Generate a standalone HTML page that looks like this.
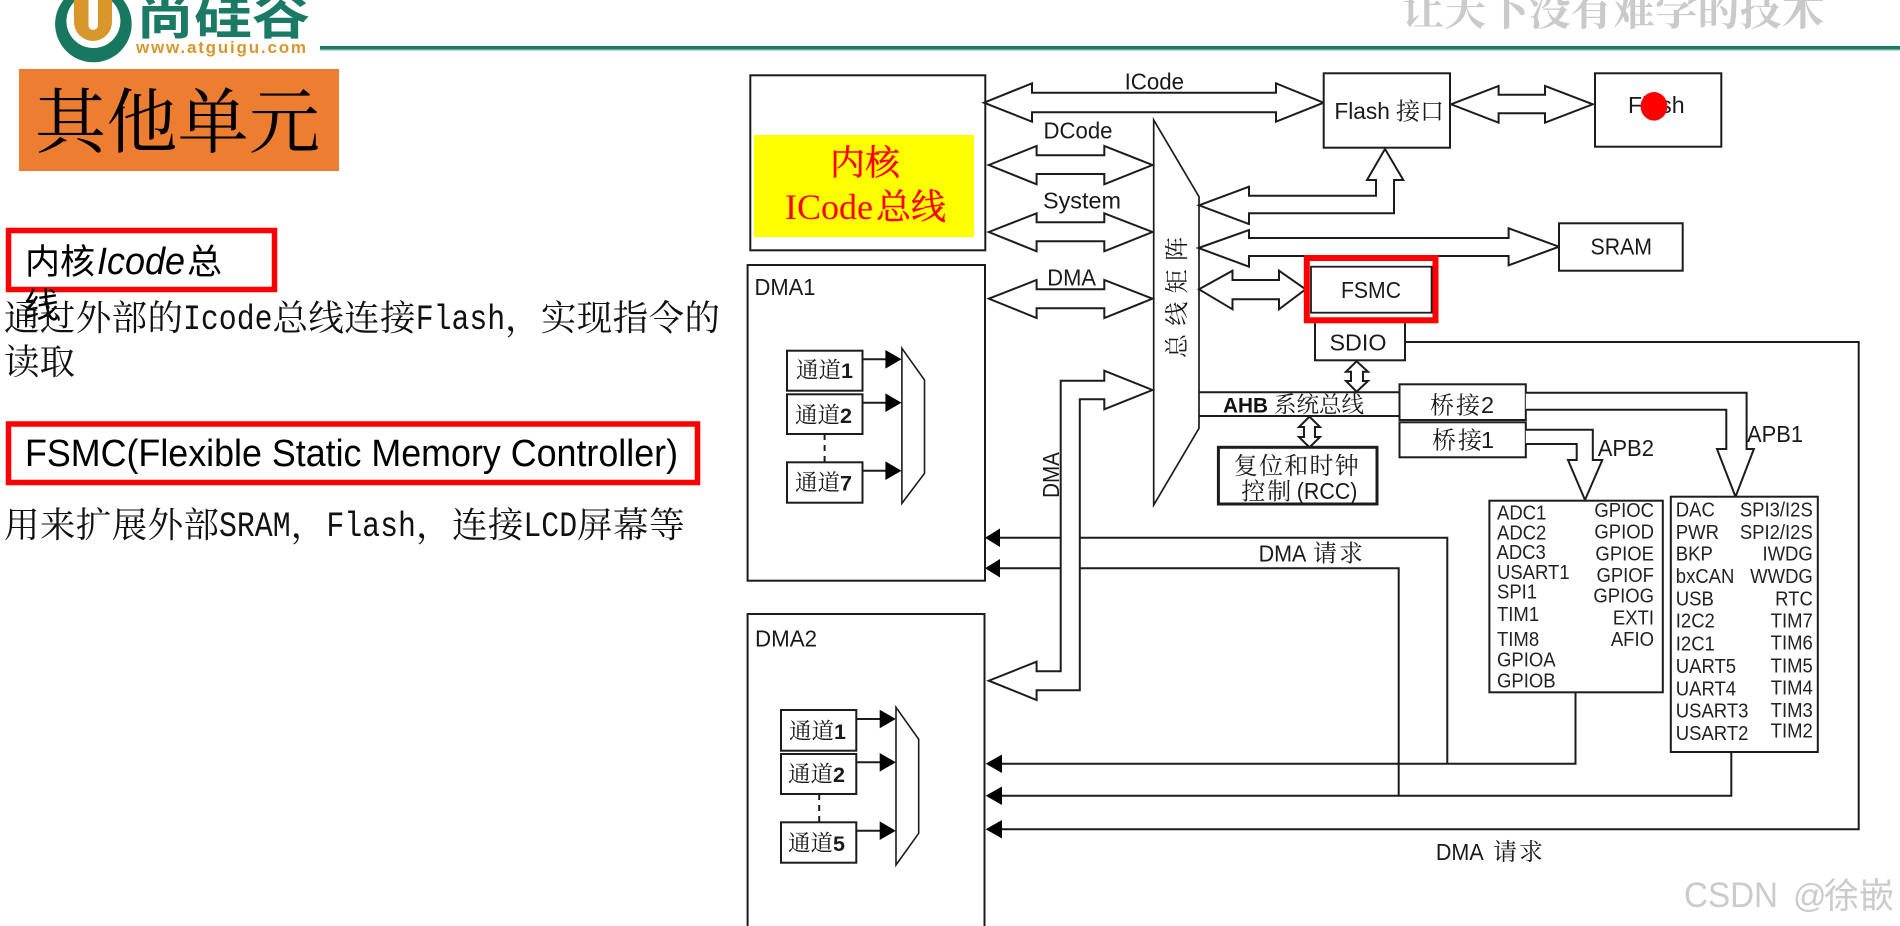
<!DOCTYPE html>
<html><head><meta charset="utf-8"><style>
html,body{margin:0;padding:0;background:#fff;width:1900px;height:926px;overflow:hidden}
svg{display:block;filter:blur(.35px)}
.p text{font-family:"Liberation Sans",sans-serif;font-size:20px;fill:#222;transform-box:fill-box;transform-origin:0 100%;transform:scaleX(.925)}
.p .e text{transform-origin:100% 100%}
.b{font-family:"Noto Serif CJK SC",serif;font-size:35.5px;fill:#111}
.m{font-family:"Liberation Mono",monospace;font-size:35px;fill:#111}
.ln{fill:none;stroke:#1c1c1c;stroke-width:2}
.ar{fill:#fff;stroke:#1c1c1c;stroke-width:2;stroke-linejoin:miter}
.bx{fill:#fff;stroke:#1c1c1c;stroke-width:2}
.t{font-family:"Liberation Sans",sans-serif;font-size:23.5px;fill:#1a1a1a}
.h{font-family:"Noto Serif CJK SC",serif;font-size:24px;fill:#1a1a1a}
.ch{font-family:"Noto Serif CJK SC",serif;font-size:22.5px;fill:#1a1a1a}
.ch tspan{font-family:"Liberation Sans",sans-serif;font-weight:bold;font-size:21.5px}
</style></head><body>
<svg width="1900" height="926" viewBox="0 0 1900 926" xmlns="http://www.w3.org/2000/svg">
<!-- header -->
<circle cx="93.4" cy="24" r="38.3" fill="#17785f"/>
<circle cx="93.4" cy="21" r="27" fill="#fff"/>
<rect x="74" y="-30" width="38" height="71" rx="19" fill="#d9962b"/>
<rect x="88.5" y="-10" width="9.5" height="40" rx="4.7" fill="#fff"/>
<text x="136" y="34" font-family="Noto Sans CJK SC,sans-serif" font-weight="bold" font-size="50" fill="#1a7a66" textLength="174" lengthAdjust="spacingAndGlyphs">尚硅谷</text>
<text x="136" y="53" font-family="Liberation Sans,sans-serif" font-weight="bold" font-size="17" fill="#d9962b" textLength="170">www.atguigu.com</text>
<rect x="320" y="46" width="1580" height="3.5" fill="#1a7a63"/>
<rect x="320" y="49.5" width="1580" height="1.5" fill="#bcd8d0"/>
<text x="1402" y="25" font-family="Noto Serif CJK SC,serif" font-weight="bold" font-size="42" fill="#cacaca" textLength="422">让天下没有难学的技术</text>
<!-- left pane -->
<rect x="19" y="69" width="320" height="102" fill="#ed7d31"/>
<text x="35" y="147" font-family="Noto Serif CJK SC,serif" font-size="71" fill="#000" textLength="285">其他单元</text>
<rect x="8.5" y="230.5" width="266" height="59" fill="#fff" stroke="#f00" stroke-width="5.5"/>
<text x="25" y="274" font-family="Noto Sans CJK SC,sans-serif" font-size="35" fill="#000">内核</text>
<text x="97" y="274" font-family="Liberation Sans,sans-serif" font-style="italic" font-size="38" fill="#000" textLength="88" lengthAdjust="spacingAndGlyphs">Icode</text>
<text x="187" y="274" font-family="Noto Sans CJK SC,sans-serif" font-size="35" fill="#000">总</text>
<text x="24" y="318" font-family="Noto Sans CJK SC,sans-serif" font-size="35" fill="#000">线</text>
<text class="b" x="4" y="330" textLength="179">通过外部的</text>
<text class="m" x="183" y="329" textLength="89.5" lengthAdjust="spacingAndGlyphs">Icode</text>
<text class="b" x="272.5" y="330" textLength="143">总线连接</text>
<text class="m" x="415.7" y="329" textLength="89.5" lengthAdjust="spacingAndGlyphs">Flash</text>
<text class="b" x="505" y="330" textLength="215">，实现指令的</text>
<text class="b" x="4" y="374" textLength="71">读取</text>
<rect x="8.5" y="424" width="689" height="58.5" fill="#fff" stroke="#f00" stroke-width="5.5"/>
<text x="25" y="466" font-family="Liberation Sans,sans-serif" font-size="38" fill="#000" textLength="653" lengthAdjust="spacingAndGlyphs">FSMC(Flexible Static Memory Controller)</text>
<text class="b" x="4" y="537" textLength="215">用来扩展外部</text>
<text class="m" x="219" y="536" textLength="71.6" lengthAdjust="spacingAndGlyphs">SRAM</text>
<text class="b" x="290.6" y="537">，</text>
<text class="m" x="326.4" y="536" textLength="89.5" lengthAdjust="spacingAndGlyphs">Flash</text>
<text class="b" x="416" y="537" textLength="107.4">，连接</text>
<text class="m" x="523.4" y="536" textLength="53.7" lengthAdjust="spacingAndGlyphs">LCD</text>
<text class="b" x="577" y="537" textLength="107.6">屏幕等</text>

<!-- request lines (under big arrow) -->
<path class="ln" d="M1000,537.7 H1447.3 V763.7"/>
<path class="ln" d="M1000,568.3 H1398.7 V796"/>
<path class="ln" d="M1002,763.7 H1575.5 V692.7"/>
<path class="ln" d="M1002,795.7 H1731.3 V752"/>
<path class="ln" d="M1002,829.3 H1858.7 V342 H1405"/>
<g fill="#000">
<path d="M985,537.7 L1000,528.5 V547Z"/>
<path d="M985,568.3 L1000,559 V577.5Z"/>
<path d="M985.7,763.7 L1002,754.5 V773Z"/>
<path d="M985.7,795.7 L1002,786.5 V805Z"/>
<path d="M985.7,829.3 L1002,820 V838.5Z"/>
</g>

<!-- core -->
<rect class="bx" x="750.3" y="75.3" width="235" height="175"/>
<rect x="754" y="135" width="220" height="102" fill="#ff0"/>
<text x="830" y="175" font-family="Noto Serif CJK SC,serif" font-size="35" fill="#f00" stroke="#f00" stroke-width=".4" textLength="70">内核</text>
<text x="785" y="219" font-family="Liberation Serif,serif" font-size="36" fill="#f00" textLength="88" lengthAdjust="spacingAndGlyphs">ICode</text>
<text x="876" y="219" font-family="Noto Serif CJK SC,serif" font-size="35" fill="#f00" stroke="#f00" stroke-width=".4">总线</text>

<!-- DMA1 -->
<rect class="bx" x="747.6" y="265" width="237.4" height="315.7"/>
<text class="t" x="754.5" y="295" textLength="61" lengthAdjust="spacingAndGlyphs">DMA1</text>
<path class="ln" d="M824.6,434 V462.3" stroke-dasharray="6 5"/>
<rect class="bx" x="787" y="350.7" width="75.5" height="40"/>
<rect class="bx" x="787" y="394.3" width="75.5" height="39.7"/>
<rect class="bx" x="787" y="462.3" width="75.5" height="40.4"/>
<text class="ch" x="796" y="378">通道<tspan>1</tspan></text>
<text class="ch" x="795" y="423">通道<tspan>2</tspan></text>
<text class="ch" x="795" y="490.5">通道<tspan>7</tspan></text>
<path class="ln" d="M862,359.3H886 M862,402.7H886 M862,470.7H886"/>
<g fill="#000">
<path d="M885.4,350 L901.5,359.3 L885.4,368.6Z"/>
<path d="M885.4,393.4 L901.5,402.7 L885.4,412Z"/>
<path d="M885.4,461.4 L901.5,470.7 L885.4,480Z"/>
</g>
<path class="bx" style="stroke-width:1.6" d="M901.9,348.3 L924.5,380 V473.3 L901.9,503.3Z"/>

<!-- DMA2 -->
<path class="ln" d="M747.6,926 V614 H984.5 V926"/>
<text class="t" x="755" y="646.5" textLength="62" lengthAdjust="spacingAndGlyphs">DMA2</text>
<path class="ln" d="M819.2,794 V822.3" stroke-dasharray="6 5"/>
<rect class="bx" x="781" y="710" width="75.3" height="40.7"/>
<rect class="bx" x="781" y="754" width="75.3" height="40"/>
<rect class="bx" x="781" y="822.3" width="75.3" height="40.4"/>
<text class="ch" x="789" y="739">通道<tspan>1</tspan></text>
<text class="ch" x="788" y="782">通道<tspan>2</tspan></text>
<text class="ch" x="788" y="851">通道<tspan>5</tspan></text>
<path class="ln" d="M856,719H880 M856,762.3H880 M856,830.7H880"/>
<g fill="#000">
<path d="M879.7,709.7 L895.8,719 L879.7,728.3Z"/>
<path d="M879.7,753 L895.8,762.3 L879.7,771.6Z"/>
<path d="M879.7,821.4 L895.8,830.7 L879.7,840Z"/>
</g>
<path class="bx" style="stroke-width:1.6" d="M896,707.3 L918.7,739.3 V833.3 L896,865Z"/>

<!-- bus matrix -->
<path class="bx" style="stroke-width:1.7" d="M1153.7,120 L1199,196.7 V428.3 L1153.7,505Z"/>
<text transform="translate(1185,358) rotate(-90)" font-family="Noto Serif CJK SC,serif" font-size="24" fill="#1a1a1a" textLength="121">总线矩阵</text>

<!-- AHB lines -->
<path class="ln" d="M1199,392.3 H1400 M1199,416 H1400"/>
<text x="1223" y="412.5" font-family="Liberation Sans,sans-serif" font-weight="bold" font-size="21.5" fill="#111" textLength="45" lengthAdjust="spacingAndGlyphs">AHB</text>
<text class="h" style="font-size:22.5px" x="1274" y="412.5">系统总线</text>

<!-- big arrows -->
<path class="ar" d="M984,102.7 L1032,83.3 V92.7 H1276 V83.3 L1323.6,102.7 L1276,121.7 V112.3 H1032 V121.7Z"/>
<text class="t" x="1124.6" y="89.5" textLength="59.5" lengthAdjust="spacingAndGlyphs">ICode</text>
<path class="ar" d="M988.8,165 L1036.6,146 V155.3 H1104.3 V146 L1152.5,165 L1104.3,184.3 V174 H1036.6 V184.3Z"/>
<text class="t" x="1043.5" y="138.5" textLength="69" lengthAdjust="spacingAndGlyphs">DCode</text>
<path class="ar" d="M988.8,232 L1036.6,213.3 V222.3 H1104.3 V213.3 L1152.5,232 L1104.3,251.3 V241.3 H1036.6 V251.3Z"/>
<text class="t" x="1043" y="208.5" textLength="78" lengthAdjust="spacingAndGlyphs">System</text>
<path class="ar" d="M988.8,298.7 L1036.6,280 V289.3 H1104.3 V280 L1152.5,298.7 L1104.3,318 V308.3 H1036.6 V318Z"/>
<text class="t" x="1047.3" y="285.5" textLength="48.7" lengthAdjust="spacingAndGlyphs">DMA</text>
<path class="ar" d="M1152.5,390 L1104.3,370.7 V380.7 H1060.7 V671.3 H1036.6 V661.7 L988.8,680.7 L1036.6,700 V690.3 H1079.8 V399.3 H1104.3 V409.3Z"/>
<text transform="translate(1059,498) rotate(-90)" class="t" textLength="46" lengthAdjust="spacingAndGlyphs">DMA</text>
<path class="ar" d="M1199,205.3 L1249,186.7 V195.7 H1376 V180 H1367 L1385,149 L1403.3,180 H1394 V213.3 H1249 V224Z"/>
<path class="ar" d="M1198.5,248 L1249,230 V238 H1508.6 V228.3 L1559,246.7 L1508.6,265.3 V256 H1249 V266.7Z"/>
<path class="ar" d="M1199,289.3 L1232.5,270.7 V280 H1279 V270.7 L1305.6,289.3 L1279,309.3 V299.3 H1232.5 V309.3Z"/>
<path class="ar" d="M1451,104.3 L1498.6,86 V94.7 H1545 V86 L1592.8,104.3 L1545,122.7 V113.3 H1498.6 V122.7Z"/>

<!-- flash -->
<rect class="bx" x="1323.7" y="73.3" width="126.3" height="74.4"/>
<text class="t" x="1334.4" y="119" textLength="55.5" lengthAdjust="spacingAndGlyphs">Flash</text>
<text class="h" x="1396" y="119.5">接口</text>
<rect class="bx" x="1595" y="73.3" width="126.3" height="73.4"/>
<text class="t" x="1628" y="113" textLength="56.6" lengthAdjust="spacingAndGlyphs">Flash</text>
<ellipse cx="1654" cy="106.3" rx="13.4" ry="14.3" fill="#f00"/>
<rect class="bx" x="1559" y="223.3" width="123.7" height="47.4"/>
<text class="t" x="1590.5" y="254.5" textLength="61.5" lengthAdjust="spacingAndGlyphs">SRAM</text>

<!-- FSMC / SDIO -->
<rect class="bx" x="1315" y="320" width="90" height="40.3"/>
<text class="t" x="1329.5" y="350.5" textLength="57" lengthAdjust="spacingAndGlyphs">SDIO</text>
<rect x="1306.8" y="258" width="128.7" height="62.3" fill="#fff" stroke="#f00" stroke-width="6"/>
<rect x="1311" y="266.7" width="120.6" height="46" fill="#fff" stroke="#1c1c1c" stroke-width="1.8"/>
<text class="t" x="1341" y="298" textLength="60" lengthAdjust="spacingAndGlyphs">FSMC</text>
<path class="ar" d="M1356.6,361.3 L1368,371.7 H1363 V381 H1368 L1356.6,391.7 L1346,381 H1351 V371.7 H1346Z"/>

<!-- RCC -->
<path class="ar" d="M1309.5,416.7 L1320,427 H1315 V437 H1320 L1309.5,447.3 L1299,437 H1304 V427 H1299Z"/>
<rect x="1218.4" y="447.3" width="158.6" height="56.7" fill="#fff" stroke="#1c1c1c" stroke-width="3"/>
<text class="h" x="1233.7" y="474" textLength="125">复位和时钟</text>
<text class="h" x="1241.3" y="499.5" textLength="50">控制</text>
<text class="t" x="1296.8" y="499" textLength="60.6" lengthAdjust="spacingAndGlyphs">(RCC)</text>

<!-- bridges -->
<rect class="bx" x="1399.5" y="384.3" width="126.3" height="35.7"/>
<rect class="bx" x="1399.5" y="422.3" width="126.3" height="35"/>
<text class="h" x="1430" y="413.5" textLength="50">桥接</text>
<text class="t" x="1481" y="413">2</text>
<text class="h" x="1432" y="448.5" textLength="50">桥接</text>
<text class="t" x="1481" y="448">1</text>
<path class="ar" d="M1525.8,392.7 H1746.6 V449 H1753.9 L1735.5,496.7 L1717,449 H1726.3 V409.7 H1525.8"/>
<path class="ar" d="M1525.8,429.7 H1592.8 V460 H1602.3 L1585,500 L1568,460 H1576.7 V444 H1525.8"/>
<text class="t" x="1747" y="442" textLength="56" lengthAdjust="spacingAndGlyphs">APB1</text>
<text class="t" x="1597.7" y="456" textLength="56.3" lengthAdjust="spacingAndGlyphs">APB2</text>

<!-- peripherals -->
<rect class="bx" x="1489.4" y="500.7" width="173.4" height="191.6"/>
<rect class="bx" x="1670.8" y="496.7" width="147" height="255.3"/>
<g class="p">
<text x="1497" y="519.5">ADC1</text><text x="1497" y="539.5">ADC2</text><text x="1496.5" y="559">ADC3</text><text x="1497" y="579">USART1</text><text x="1497" y="598.5">SPI1</text><text x="1497" y="621">TIM1</text><text x="1497" y="646">TIM8</text><text x="1497" y="666.5">GPIOA</text><text x="1497" y="687.5">GPIOB</text>
<g class="e" text-anchor="end"><text x="1654" y="517">GPIOC</text><text x="1654" y="538.5">GPIOD</text><text x="1654" y="560.5">GPIOE</text><text x="1654" y="582">GPIOF</text><text x="1654" y="602.5">GPIOG</text><text x="1654" y="624.5">EXTI</text><text x="1654" y="646">AFIO</text></g>
<text x="1675.8" y="516.5">DAC</text><text x="1675.8" y="539">PWR</text><text x="1675.8" y="560.5">BKP</text><text x="1675.8" y="583">bxCAN</text><text x="1675.8" y="605.5">USB</text><text x="1675.8" y="627.5">I2C2</text><text x="1675.8" y="650.5">I2C1</text><text x="1675.8" y="673">UART5</text><text x="1675.8" y="695.5">UART4</text><text x="1675.8" y="717.5">USART3</text><text x="1675.8" y="740">USART2</text>
<g class="e" text-anchor="end"><text x="1812.8" y="516.5">SPI3/I2S</text><text x="1812.8" y="539">SPI2/I2S</text><text x="1812.8" y="560.5">IWDG</text><text x="1812.8" y="583">WWDG</text><text x="1812.8" y="605.5">RTC</text><text x="1812.8" y="627.5">TIM7</text><text x="1812.8" y="649.5">TIM6</text><text x="1812.8" y="672.5">TIM5</text><text x="1812.8" y="694.5">TIM4</text><text x="1812.8" y="717">TIM3</text><text x="1812.8" y="737.5">TIM2</text></g>
</g>

<!-- DMA request labels -->
<text class="t" x="1258.6" y="561.5" textLength="47.8" lengthAdjust="spacingAndGlyphs">DMA</text>
<text class="h" x="1313" y="561.5" textLength="50">请求</text>
<text class="t" x="1435.9" y="860" textLength="47.8" lengthAdjust="spacingAndGlyphs">DMA</text>
<text class="h" x="1493" y="860" textLength="50">请求</text>

<!-- watermark -->
<text x="1684" y="907" font-family="Liberation Sans,sans-serif" font-size="35" fill="#cbcbcb" textLength="94" lengthAdjust="spacingAndGlyphs">CSDN</text>
<text x="1793" y="907" font-family="Liberation Sans,sans-serif" font-size="33" fill="#cbcbcb">@</text>
<text x="1824" y="908" font-family="Noto Sans CJK SC,sans-serif" font-size="35" fill="#cbcbcb">徐嵌</text>
</svg>
</body></html>
